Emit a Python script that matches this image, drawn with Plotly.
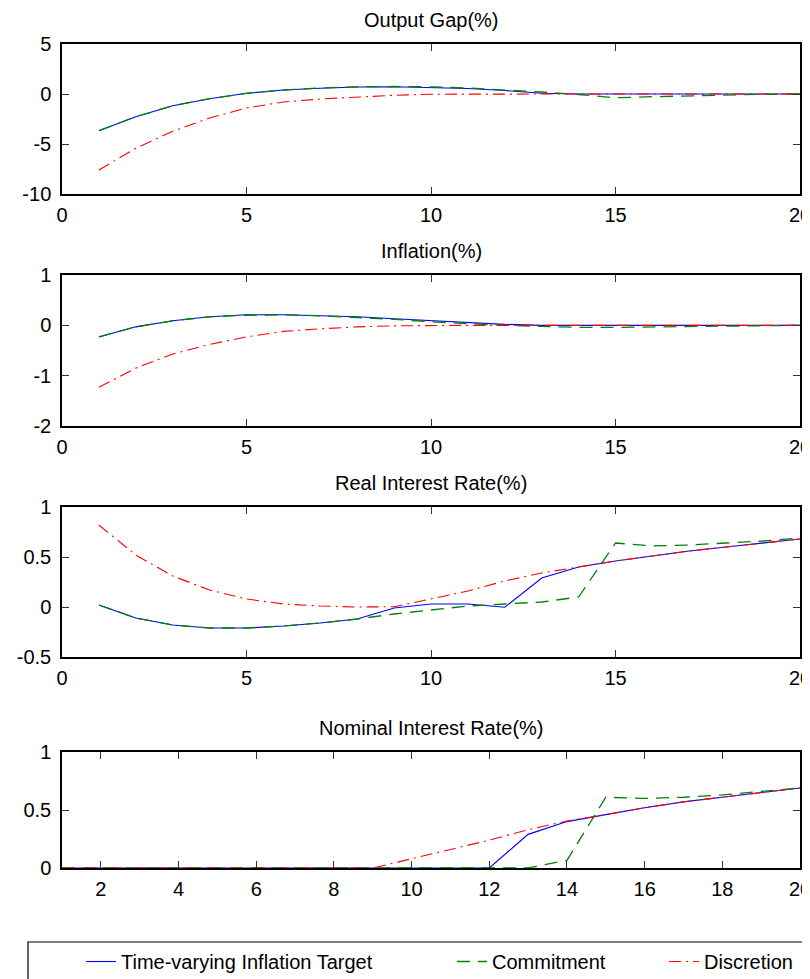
import plotly.graph_objects as go

periods = [1, 2, 3, 4, 5, 6, 7, 8, 9, 10, 11, 12, 13, 14, 15, 16, 17, 18, 19, 20]

series_names = ["Time-varying Inflation Target", "Commitment", "Discretion"]
panel_titles = ["Output Gap(%)", "Inflation(%)", "Real Interest Rate(%)", "Nominal Interest Rate(%)"]

# Output gap
gap_tvit = [-3.67, -2.27, -1.17, -0.47, 0.07, 0.40, 0.57, 0.70, 0.73, 0.67,
            0.55, 0.35, 0.08, 0.0, 0.0, 0.0, 0.0, 0.0, 0.0, 0.0]
gap_commit = [-3.67, -2.27, -1.17, -0.47, 0.07, 0.40, 0.60, 0.72, 0.75, 0.72,
              0.60, 0.42, 0.20, -0.05, -0.38, -0.27, -0.17, -0.10, -0.03, 0.0]
gap_disc = [-7.60, -5.43, -3.73, -2.40, -1.40, -0.80, -0.50, -0.30, -0.13, -0.02,
            0.0, 0.0, 0.0, 0.0, 0.0, 0.0, 0.0, 0.0, 0.0, 0.0]

# Inflation
inf_tvit = [-0.23, -0.03, 0.09, 0.17, 0.21, 0.21, 0.19, 0.17, 0.13, 0.09,
            0.05, 0.02, 0.0, 0.0, 0.0, 0.0, 0.0, 0.0, 0.0, 0.0]
inf_commit = [-0.23, -0.03, 0.09, 0.17, 0.20, 0.21, 0.19, 0.16, 0.12, 0.07,
              0.03, 0.0, -0.02, -0.04, -0.04, -0.03, -0.02, -0.01, 0.0, 0.0]
inf_disc = [-1.23, -0.85, -0.57, -0.38, -0.23, -0.12, -0.07, -0.03, -0.01, 0.0,
            0.0, 0.0, 0.0, 0.0, 0.0, 0.0, 0.0, 0.0, 0.0, 0.0]

# Real interest rate
real_tvit = [0.02, -0.11, -0.18, -0.21, -0.21, -0.19, -0.16, -0.12, -0.01, 0.03,
             0.03, -0.003, 0.29, 0.40, 0.46, 0.51, 0.56, 0.60, 0.64, 0.68]
real_commit = [0.02, -0.11, -0.18, -0.21, -0.21, -0.19, -0.16, -0.12, -0.07, -0.03,
               0.01, 0.03, 0.05, 0.10, 0.64, 0.61, 0.62, 0.64, 0.66, 0.69]
real_disc = [0.82, 0.52, 0.31, 0.17, 0.08, 0.03, 0.01, 0.0, 0.003, 0.08,
             0.16, 0.26, 0.34, 0.40, 0.46, 0.51, 0.56, 0.60, 0.64, 0.68]

# Nominal interest rate
nom_tvit = [0.0, 0.0, 0.0, 0.0, 0.0, 0.0, 0.0, 0.0, 0.0, 0.0,
            0.0, 0.0, 0.29, 0.40, 0.46, 0.52, 0.57, 0.61, 0.65, 0.69]
nom_commit = [0.0, 0.0, 0.0, 0.0, 0.0, 0.0, 0.0, 0.0, 0.0, 0.0,
              0.0, 0.0, 0.0, 0.066, 0.61, 0.60, 0.61, 0.63, 0.66, 0.69]
nom_disc = [0.0, 0.0, 0.0, 0.0, 0.0, 0.0, 0.0, 0.0, 0.0, 0.08,
            0.16, 0.24, 0.33, 0.405, 0.46, 0.52, 0.57, 0.61, 0.65, 0.69]

# Axis ticks
x_ticks_a = [0, 5, 10, 15, 20]
x_ticklabels_a = ["0", "5", "10", "15", "20"]
x_ticks_b = [2, 4, 6, 8, 10, 12, 14, 16, 18, 20]
x_ticklabels_b = ["2", "4", "6", "8", "10", "12", "14", "16", "18", "20"]
y1_ticks = [-10, -5, 0, 5]
y1_ticklabels = ["-10", "-5", "0", "5"]
y2_ticks = [-2, -1, 0, 1]
y2_ticklabels = ["-2", "-1", "0", "1"]
y3_ticks = [-0.5, 0, 0.5, 1]
y3_ticklabels = ["-0.5", "0", "0.5", "1"]
y4_ticks = [0, 0.5, 1]
y4_ticklabels = ["0", "0.5", "1"]

FONT = "Liberation Sans, Arial, Helvetica, sans-serif"
OFF = 8  # page body margin
W, H = 810 - OFF, 979 - OFF
ML = 62 - OFF
MT = 44 - OFF
MR = W - (800 - OFF)
MB = H - (868 - OFF)
PH = H - MT - MB
PW = W - ML - MR


def ypx(p):
    """page pixel y -> paper fraction"""
    return (H - MB - (p - OFF)) / PH


def xpx(p):
    """page pixel x -> paper fraction"""
    return ((p - OFF) - ML) / PW


domains = [
    [ypx(194), ypx(44)],
    [ypx(426), ypx(275)],
    [ypx(657), ypx(507)],
    [ypx(868), ypx(752)],
]

styles = [
    dict(color="#0000FF", width=1.1, dash="solid"),
    dict(color="#008000", width=1.3, dash="13px,8px"),
    dict(color="#FF0000", width=1.1, dash="12px,5px,2px,5px"),
]
legend_ids = ["legend", "legend2", "legend3"]

panels = [
    (gap_tvit, gap_commit, gap_disc),
    (inf_tvit, inf_commit, inf_disc),
    (real_tvit, real_commit, real_disc),
    (nom_tvit, nom_commit, nom_disc),
]

fig = go.Figure()
for pi, series in enumerate(panels):
    suffix = "" if pi == 0 else str(pi + 1)
    for si, vals in enumerate(series):
        fig.add_trace(go.Scatter(
            x=periods, y=vals, mode="lines",
            name=series_names[si],
            line=styles[si],
            xaxis="x" + suffix, yaxis="y" + suffix,
            showlegend=(pi == 0),
            legend=legend_ids[si],
            hoverinfo="skip",
        ))

axis_common = dict(
    showline=True, linecolor="black", linewidth=1.5, mirror="ticks",
    ticks="inside", ticklen=7, tickwidth=1, tickcolor="#333333",
    showgrid=False, zeroline=False, automargin=False,
    ticklabeloverflow="allow",
    tickfont=dict(family=FONT, size=20, color="black"),
)

y_specs = [
    ([-10, 5], y1_ticks, y1_ticklabels),
    ([-2, 1], y2_ticks, y2_ticklabels),
    ([-0.5, 1], y3_ticks, y3_ticklabels),
    ([0, 1], y4_ticks, y4_ticklabels),
]

layout = dict(
    width=W, height=H, autosize=False,
    margin=dict(l=ML, r=MR, t=MT, b=MB, pad=0, autoexpand=False),
    paper_bgcolor="white", plot_bgcolor="white",
    font=dict(family=FONT, size=20, color="black"),
    showlegend=True,
)

for pi in range(4):
    suffix = "" if pi == 0 else str(pi + 1)
    if pi < 3:
        xr, xt, xl = [0, 20], x_ticks_a, x_ticklabels_a
    else:
        xr, xt, xl = [1, 20], x_ticks_b, x_ticklabels_b
    yr, yt, yl = y_specs[pi]
    layout["xaxis" + suffix] = dict(
        axis_common, domain=[0, 1], range=xr, tickvals=xt, ticktext=xl,
        anchor="y" + suffix, ticklabelstandoff=2,
    )
    layout["yaxis" + suffix] = dict(
        axis_common, domain=domains[pi], range=yr, tickvals=yt, ticktext=yl,
        anchor="x" + suffix, ticklabelstandoff=5,
    )

fig.update_layout(**layout)

annotations = []
for pi, title in enumerate(panel_titles):
    annotations.append(dict(
        text=title, x=0.5, xref="paper", y=domains[pi][1], yref="paper",
        xanchor="center", yanchor="bottom", yshift=11, showarrow=False,
        font=dict(family=FONT, size=20, color="black"),
    ))
fig.update_layout(annotations=annotations)

legend_text_x = [81, 452, 664]  # page px of legend left (text starts ~40px later)
leg_common = dict(
    orientation="h", yanchor="top", xanchor="left",
    y=ypx(942), bgcolor="rgba(0,0,0,0)", borderwidth=0,
    font=dict(family=FONT, size=20, color="black"),
)
fig.update_layout(
    legend=dict(leg_common, x=xpx(legend_text_x[0])),
    legend2=dict(leg_common, x=xpx(legend_text_x[1])),
    legend3=dict(leg_common, x=xpx(legend_text_x[2])),
)

fig.add_shape(
    type="rect", xref="paper", yref="paper",
    x0=xpx(28), x1=xpx(830), y0=ypx(942), y1=ypx(1000),
    line=dict(color="black", width=1.2), fillcolor="rgba(0,0,0,0)",
)

fig.write_html("out.html")
